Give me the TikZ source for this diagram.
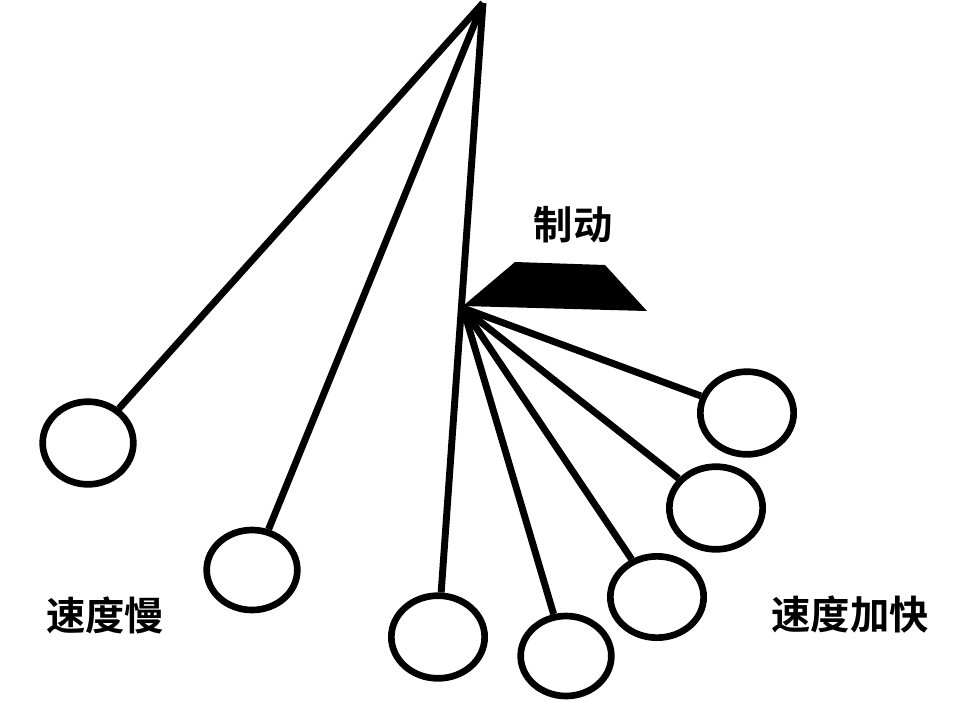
\documentclass[tikz,border=0pt]{standalone}
\usepackage{fontspec}
\newfontfamily\cjk{Noto Sans CJK SC}[BoldFont={Noto Sans CJK SC Bold}]
\usetikzlibrary{shapes.geometric}
\begin{document}
\begin{tikzpicture}[x=0.75pt,y=-0.75pt,
  bob/.style={ellipse,draw,line width=5pt,minimum width=#1},
  rod/.style={line width=5.2pt},
  lab/.style={font=\cjk\bfseries\fontsize{29.5}{32}\selectfont}]
\useasboundingbox (0,0) rectangle (960,701);
\coordinate (p) at (483,3);
\coordinate (b) at (463,308);
\node[bob,minimum width=68pt,minimum height=62pt] (c1) at (88,443) {};
\node[bob,minimum width=68pt,minimum height=60pt] (c2) at (252,570) {};
\node[bob,minimum width=70pt,minimum height=62pt] (c3) at (438,637) {};
\node[bob,minimum width=68pt,minimum height=60pt] (c4) at (566,656) {};
\node[bob,minimum width=70pt,minimum height=61pt] (c5) at (657,597) {};
\node[bob,minimum width=70pt,minimum height=62pt] (c6) at (716,508) {};
\node[bob,minimum width=70pt,minimum height=62pt] (c7) at (747,413) {};
\draw[rod] (p) -- (c1);
\draw[rod] (p) -- (c2);
\draw[rod] (p) -- (c3);
\foreach \c in {c4,c5,c6,c7} \draw[rod] (b) -- (\c);
\fill (463,306) -- (515,262) -- (605,265) -- (647,311) -- cycle;
\node[lab] (t1) at (573,225) {制动};
\node[lab] (t2) at (105,615) {速度慢};
\node[lab] (t3) at (850,615) {速度加快};
\end{tikzpicture}
\end{document}
